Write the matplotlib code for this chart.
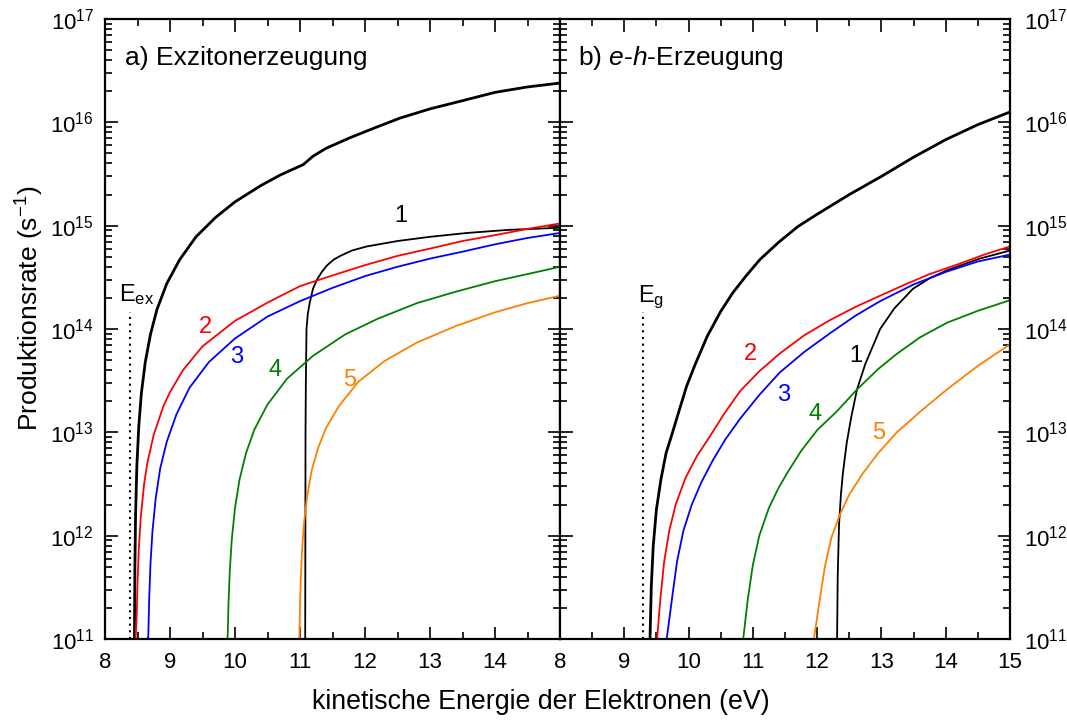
import matplotlib
matplotlib.use('Agg')
import matplotlib.pyplot as plt
from matplotlib.ticker import FixedLocator, MultipleLocator, NullFormatter, LogFormatterMathtext

plt.rcParams['font.family'] = ['Liberation Sans', 'DejaVu Sans']
plt.rcParams['mathtext.fontset'] = 'custom'
plt.rcParams['mathtext.rm'] = 'Liberation Sans'
plt.rcParams['mathtext.it'] = 'Liberation Sans:italic'
plt.rcParams['mathtext.default'] = 'regular'

# ---------------- data: panel a) Exzitonerzeugung ----------------
a_total_E = [8.453, 8.455, 8.46, 8.47, 8.49, 8.52, 8.56, 8.62, 8.70, 8.80, 8.95, 9.15, 9.4, 9.7, 10.0, 10.4,
             10.7, 11.05, 11.1, 11.2, 11.4, 11.77, 12.2, 12.54, 13.0, 13.5, 14.0, 14.5, 15.0]
a_total_R = [1.0e11, 1.6e11, 5.0e11, 1.55e12, 4.7e12, 1.15e13, 2.4e13, 4.8e13, 8.9e13, 1.55e14, 2.75e14,
             4.7e14, 7.8e14, 1.2e15, 1.7e15, 2.45e15, 3.1e15, 3.9e15, 4.15e15, 4.7e15, 5.6e15, 7.1e15,
             9.1e15, 1.1e16, 1.35e16, 1.62e16, 1.95e16, 2.2e16, 2.4e16]

a_1_E = [11.08, 11.085, 11.09, 11.10, 11.12, 11.15, 11.2, 11.26, 11.34, 11.42, 11.52, 11.62, 11.8, 12.03,
         12.5, 13.0, 13.57, 14.2, 15.0]
a_1_R = [1.0e11, 1.0e13, 3.0e13, 1.0e14, 1.4e14, 1.8e14, 2.45e14, 3.0e14, 3.6e14, 4.15e14, 4.7e14, 5.1e14,
         5.75e14, 6.3e14, 7.1e14, 7.8e14, 8.5e14, 9.1e14, 9.55e14]

a_2_E = [8.47, 8.48, 8.49, 8.50, 8.52, 8.55, 8.60, 8.65, 8.75, 8.9, 9.0, 9.2, 9.5, 10.0, 10.5, 11.0, 11.5,
         12.0, 12.5, 13.0, 13.5, 14.0, 14.5, 15.0]
a_2_R = [1.0e11, 1.3e11, 1.9e11, 3.5e11, 7.4e11, 1.5e12, 3.1e12, 5.0e12, 9.5e12, 1.8e13, 2.45e13, 4.0e13,
         6.8e13, 1.2e14, 1.8e14, 2.6e14, 3.3e14, 4.15e14, 5.1e14, 6.0e14, 7.1e14, 8.1e14, 9.3e14, 1.05e15]

a_3_E = [8.65, 8.665, 8.67, 8.68, 8.70, 8.73, 8.78, 8.85, 8.95, 9.1, 9.3, 9.6, 10.0, 10.5, 11.0, 11.5, 12.0,
         12.5, 13.0, 13.5, 14.0, 14.5, 15.0]
a_3_R = [1.0e11, 1.05e11, 1.35e11, 2.45e11, 5.4e11, 1.1e12, 2.3e12, 4.5e12, 8.1e12, 1.5e13, 2.7e13, 4.8e13,
         8.1e13, 1.32e14, 1.86e14, 2.5e14, 3.25e14, 4.0e14, 4.8e14, 5.6e14, 6.6e14, 7.6e14, 8.5e14]

a_4_E = [9.87, 9.885, 9.89, 9.90, 9.92, 9.95, 10.0, 10.07, 10.17, 10.3, 10.5, 10.8, 11.2, 11.7, 12.2, 12.8,
         13.4, 14.0, 14.5, 15.0]
a_4_R = [1.0e11, 1.02e11, 1.2e11, 2.2e11, 4.6e11, 9.1e11, 1.86e12, 3.5e12, 6.3e12, 1.07e13, 1.86e13,
         3.3e13, 5.5e13, 8.9e13, 1.26e14, 1.78e14, 2.3e14, 2.9e14, 3.4e14, 4.0e14]

a_5_E = [10.99, 11.00, 11.01, 11.03, 11.06, 11.11, 11.18, 11.28, 11.4, 11.6, 11.9, 12.3, 12.8, 13.4, 14.0,
         14.5, 15.0]
a_5_R = [1.0e11, 2.1e11, 3.5e11, 6.9e11, 1.3e12, 2.4e12, 4.3e12, 7.1e12, 1.1e13, 1.8e13, 3.1e13, 4.9e13,
         7.4e13, 1.07e14, 1.45e14, 1.78e14, 2.1e14]

# ---------------- data: panel b) e-h-Erzeugung ----------------
b_total_E = [9.40, 9.42, 9.45, 9.50, 9.57, 9.65, 9.74, 9.85, 9.97, 10.1, 10.29, 10.5, 10.69, 10.9, 11.11,
             11.4, 11.7, 12.0, 12.5, 13.0, 13.5, 14.0, 14.5, 15.0]
b_total_R = [1.0e11, 3.2e11, 7.9e11, 1.8e12, 3.5e12, 6.3e12, 9.5e12, 1.6e13, 2.8e13, 4.5e13, 8.5e13,
             1.48e14, 2.25e14, 3.3e14, 4.7e14, 6.9e14, 9.8e14, 1.29e15, 2.0e15, 3.0e15, 4.6e15, 6.8e15,
             9.5e15, 1.26e16]

b_1_E = [12.31, 12.32, 12.34, 12.37, 12.40, 12.46, 12.53, 12.62, 12.75, 12.98, 13.2, 13.49, 13.75, 14.02,
         14.53, 15.0]
b_1_R = [1.0e11, 4.0e11, 1.26e12, 2.5e12, 4.0e12, 7.9e12, 1.4e13, 2.6e13, 4.6e13, 1.0e14, 1.58e14,
         2.45e14, 3.1e14, 3.7e14, 4.8e14, 5.75e14]

b_2_E = [9.51, 9.56, 9.62, 9.70, 9.80, 9.95, 10.13, 10.33, 10.55, 10.80, 11.1, 11.42, 11.8, 12.2, 12.6,
         12.98, 13.4, 13.75, 14.2, 14.6, 15.0]
b_2_R = [1.0e11, 2.4e11, 5.6e11, 1.12e12, 2.0e12, 3.6e12, 5.9e12, 9.1e12, 1.5e13, 2.5e13, 3.9e13,
         5.8e13, 8.7e13, 1.22e14, 1.64e14, 2.1e14, 2.75e14, 3.4e14, 4.25e14, 5.25e14, 6.3e14]

b_3_E = [9.66, 9.74, 9.82, 9.92, 10.05, 10.2, 10.38, 10.57, 10.8, 11.1, 11.42, 11.8, 12.2, 12.6, 12.98,
         13.5, 14.02, 14.5, 15.0]
b_3_R = [1.0e11, 2.4e11, 5.6e11, 1.12e12, 2.0e12, 3.3e12, 5.4e12, 8.5e12, 1.35e13, 2.3e13, 3.8e13,
         6.0e13, 9.1e13, 1.35e14, 1.86e14, 2.7e14, 3.6e14, 4.5e14, 5.25e14]

b_4_E = [10.85, 10.92, 11.0, 11.1, 11.25, 11.4, 11.53, 11.75, 12.0, 12.3, 12.62, 12.95, 13.24, 13.6, 14.02,
         14.5, 15.0]
b_4_R = [1.0e11, 2.4e11, 5.2e11, 1.0e12, 1.86e12, 2.9e12, 4.0e12, 6.6e12, 1.05e13, 1.58e13, 2.6e13,
         4.1e13, 5.75e13, 8.3e13, 1.15e14, 1.5e14, 1.9e14]

b_5_E = [11.95, 12.04, 12.12, 12.22, 12.35, 12.5, 12.71, 12.95, 13.24, 13.6, 14.02, 14.5, 15.0]
b_5_R = [1.0e11, 2.4e11, 5.0e11, 9.5e11, 1.58e12, 2.5e12, 4.0e12, 6.3e12, 1.0e13, 1.58e13, 2.6e13,
         4.4e13, 7.1e13]

# thresholds (dotted lines)
E_ex = 8.38
E_g = 9.29
thresh_top = 1.45e14

x_ticks = [8, 9, 10, 11, 12, 13, 14, 15]
a_xticklabels = ['8', '9', '10', '11', '12', '13', '14', '8']
b_xticklabels = ['', '9', '10', '11', '12', '13', '14', '15']
y_major = [1e11, 1e12, 1e13, 1e14, 1e15, 1e16, 1e17]
y_minor = [m * 10.0 ** d for d in range(11, 17) for m in range(2, 10)]

col = {'1': 'black', '2': '#ff0000', '3': '#0000ff', '4': '#008000', '5': '#ff8000'}

fig = plt.figure(figsize=(10.67, 7.24), dpi=100)
W, H = 1067, 724
axA = fig.add_axes([105 / W, 1 - 639 / H, 455 / W, 620 / H])
axB = fig.add_axes([560 / W, 1 - 639 / H, 450 / W, 620 / H])

thick = 2.0
thin = 1.3

axA.plot(a_total_E, a_total_R, color='black', lw=thick)
axA.plot(a_1_E, a_1_R, color=col['1'], lw=thin)
axA.plot(a_2_E, a_2_R, color=col['2'], lw=thin)
axA.plot(a_3_E, a_3_R, color=col['3'], lw=thin)
axA.plot(a_4_E, a_4_R, color=col['4'], lw=thin)
axA.plot(a_5_E, a_5_R, color=col['5'], lw=thin)
axA.plot([E_ex, E_ex], [1e11, thresh_top], color='black', lw=1.5, ls=(0, (1, 2.2)))

axB.plot(b_total_E, b_total_R, color='black', lw=thick)
axB.plot(b_1_E, b_1_R, color=col['1'], lw=thin)
axB.plot(b_2_E, b_2_R, color=col['2'], lw=thin)
axB.plot(b_3_E, b_3_R, color=col['3'], lw=thin)
axB.plot(b_4_E, b_4_R, color=col['4'], lw=thin)
axB.plot(b_5_E, b_5_R, color=col['5'], lw=thin)
axB.plot([E_g, E_g], [1e11, thresh_top], color='black', lw=1.5, ls=(0, (1, 2.2)))

for ax, labs in ((axA, a_xticklabels), (axB, b_xticklabels)):
    ax.set_yscale('log')
    ax.set_xlim(8, 15)
    ax.set_ylim(1e11, 1e17)
    ax.set_xticks(x_ticks)
    ax.set_xticklabels(labs)
    ax.xaxis.set_minor_locator(MultipleLocator(0.5))
    ax.yaxis.set_major_locator(FixedLocator(y_major))
    ax.yaxis.set_minor_locator(FixedLocator(y_minor))
    ax.yaxis.set_minor_formatter(NullFormatter())
    ax.yaxis.set_major_formatter(LogFormatterMathtext())
    ax.tick_params(which='both', direction='in', top=True, bottom=True, left=True, right=True,
                   width=1.2, labelsize=16)
    ax.tick_params(which='major', length=9)
    ax.tick_params(which='minor', length=5)
    ax.tick_params(axis='x', which='major', pad=9)
    for s in ax.spines.values():
        s.set_linewidth(1.6)

axA.tick_params(axis='y', labelleft=True, labelright=False, pad=8)
axB.tick_params(axis='y', labelleft=False, labelright=True, pad=10)

fs_lab = 17
# panel a labels
axA.text(0.044, 0.926, 'a) Exzitonerzeugung', transform=axA.transAxes, fontsize=19, ha='left', va='baseline')
axA.text(12.55, 10**15.09, '1', color=col['1'], fontsize=fs_lab, ha='center', va='center')
axA.text(9.54, 10**14.02, '2', color=col['2'], fontsize=fs_lab, ha='center', va='center')
axA.text(10.03, 10**13.73, '3', color=col['3'], fontsize=fs_lab, ha='center', va='center')
axA.text(10.62, 10**13.60, '4', color=col['4'], fontsize=fs_lab, ha='center', va='center')
axA.text(11.77, 10**13.51, '5', color=col['5'], fontsize=fs_lab, ha='center', va='center')
axA.text(8.22, 10**14.27, 'E$_{ex}$', fontsize=17, ha='left', va='baseline')

# panel b labels
axB.text(0.04, 0.926, 'b) $\\it{e}$-$\\it{h}$-Erzeugung', transform=axB.transAxes, fontsize=19, ha='left', va='baseline')
axB.text(12.60, 10**13.74, '1', color=col['1'], fontsize=fs_lab, ha='center', va='center')
axB.text(10.97, 10**13.76, '2', color=col['2'], fontsize=fs_lab, ha='center', va='center')
axB.text(11.48, 10**13.36, '3', color=col['3'], fontsize=fs_lab, ha='center', va='center')
axB.text(11.97, 10**13.18, '4', color=col['4'], fontsize=fs_lab, ha='center', va='center')
axB.text(12.95, 10**12.99, '5', color=col['5'], fontsize=fs_lab, ha='center', va='center')
axB.text(9.21, 10**14.26, 'E$_{g}$', fontsize=17, ha='left', va='baseline')

fig.text(541 / W, 1 - 702 / H, 'kinetische Energie der Elektronen (eV)', fontsize=19.3, ha='center', va='center')
fig.text(30 / W, 1 - 308 / H, 'Produktionsrate (s$^{-1}$)', fontsize=19, ha='center', va='center', rotation=90)

fig.savefig('out.png', dpi=100)
